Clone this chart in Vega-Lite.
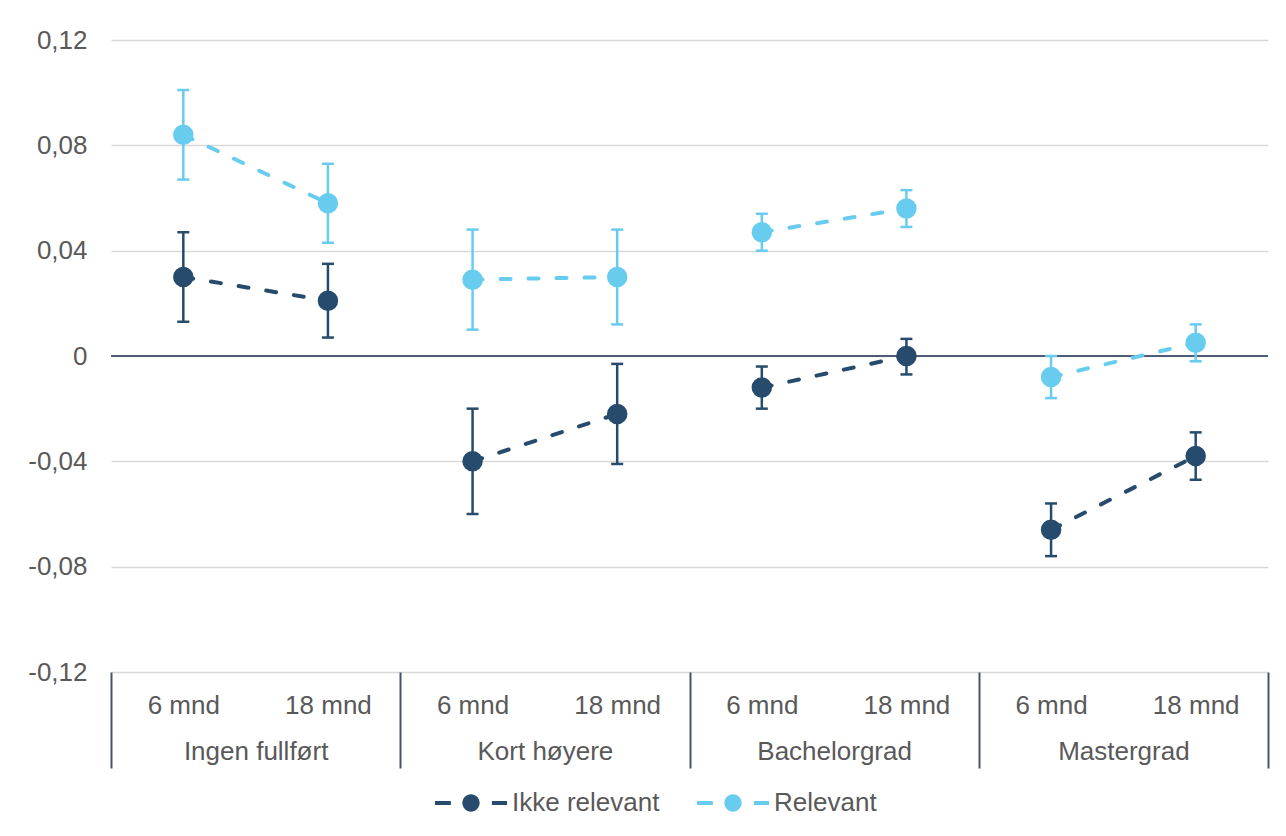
{
  "$schema": "https://vega.github.io/schema/vega-lite/v6.json",
  "width": 1157,
  "height": 632,
  "autosize": "none",
  "padding": {"left": 111, "top": 40, "right": 18, "bottom": 164},
  "background": "#ffffff",
  "config": {
    "font": "Liberation Sans",
    "view": {"stroke": null},
    "axis": {"labelFont": "Liberation Sans", "labelFontSize": 26, "labelColor": "#595959", "title": null}
  },
  "datasets": {
    "pts": [
      {"group": "Ingen fullført", "month": "6 mnd", "key": "Ingen fullført|6 mnd", "series": "Ikke relevant", "v": 0.030, "lo": 0.013, "hi": 0.047},
      {"group": "Ingen fullført", "month": "18 mnd", "key": "Ingen fullført|18 mnd", "series": "Ikke relevant", "v": 0.021, "lo": 0.007, "hi": 0.035},
      {"group": "Kort høyere", "month": "6 mnd", "key": "Kort høyere|6 mnd", "series": "Ikke relevant", "v": -0.040, "lo": -0.060, "hi": -0.020},
      {"group": "Kort høyere", "month": "18 mnd", "key": "Kort høyere|18 mnd", "series": "Ikke relevant", "v": -0.022, "lo": -0.041, "hi": -0.003},
      {"group": "Bachelorgrad", "month": "6 mnd", "key": "Bachelorgrad|6 mnd", "series": "Ikke relevant", "v": -0.012, "lo": -0.020, "hi": -0.004},
      {"group": "Bachelorgrad", "month": "18 mnd", "key": "Bachelorgrad|18 mnd", "series": "Ikke relevant", "v": 0.000, "lo": -0.007, "hi": 0.0065},
      {"group": "Mastergrad", "month": "6 mnd", "key": "Mastergrad|6 mnd", "series": "Ikke relevant", "v": -0.066, "lo": -0.076, "hi": -0.056},
      {"group": "Mastergrad", "month": "18 mnd", "key": "Mastergrad|18 mnd", "series": "Ikke relevant", "v": -0.038, "lo": -0.047, "hi": -0.029},
      {"group": "Ingen fullført", "month": "6 mnd", "key": "Ingen fullført|6 mnd", "series": "Relevant", "v": 0.084, "lo": 0.067, "hi": 0.101},
      {"group": "Ingen fullført", "month": "18 mnd", "key": "Ingen fullført|18 mnd", "series": "Relevant", "v": 0.058, "lo": 0.043, "hi": 0.073},
      {"group": "Kort høyere", "month": "6 mnd", "key": "Kort høyere|6 mnd", "series": "Relevant", "v": 0.029, "lo": 0.010, "hi": 0.048},
      {"group": "Kort høyere", "month": "18 mnd", "key": "Kort høyere|18 mnd", "series": "Relevant", "v": 0.030, "lo": 0.012, "hi": 0.048},
      {"group": "Bachelorgrad", "month": "6 mnd", "key": "Bachelorgrad|6 mnd", "series": "Relevant", "v": 0.047, "lo": 0.040, "hi": 0.054},
      {"group": "Bachelorgrad", "month": "18 mnd", "key": "Bachelorgrad|18 mnd", "series": "Relevant", "v": 0.056, "lo": 0.049, "hi": 0.063},
      {"group": "Mastergrad", "month": "6 mnd", "key": "Mastergrad|6 mnd", "series": "Relevant", "v": -0.008, "lo": -0.016, "hi": 0.000},
      {"group": "Mastergrad", "month": "18 mnd", "key": "Mastergrad|18 mnd", "series": "Relevant", "v": 0.005, "lo": -0.002, "hi": 0.012}
    ],
    "groups": [
      {"group": "Ingen fullført"},
      {"group": "Kort høyere"},
      {"group": "Bachelorgrad"},
      {"group": "Mastergrad"}
    ]
  },
  "resolve": {"scale": {"x": "independent"}, "axis": {"x": "independent"}},
  "layer": [
    {
      "data": {"name": "pts"},
      "mark": {"type": "rule", "color": "#4E5D75", "strokeWidth": 2},
      "encoding": {
        "y": {
          "datum": 0,
          "type": "quantitative",
          "scale": {"domain": [-0.12, 0.12], "nice": false, "zero": false},
          "axis": {
            "values": [-0.12, -0.08, -0.04, 0, 0.04, 0.08, 0.12],
            "domain": false,
            "ticks": false,
            "grid": true,
            "gridColor": "#D9D9D9",
            "gridWidth": 1.5,
            "labelPadding": 24,
            "labelExpr": "datum.value == 0 ? '0' : (datum.value < 0 ? '-' : '') + replace(format(abs(datum.value), '.2f'), '.', ',')"
          }
        }
      }
    },
    {
      "data": {"name": "pts"},
      "encoding": {
        "x": {
          "field": "key",
          "type": "nominal",
          "sort": ["Ingen fullført|6 mnd", "Ingen fullført|18 mnd", "Kort høyere|6 mnd", "Kort høyere|18 mnd", "Bachelorgrad|6 mnd", "Bachelorgrad|18 mnd", "Mastergrad|6 mnd", "Mastergrad|18 mnd"],
          "scale": {"type": "point", "padding": 0.5},
          "axis": {
            "orient": "bottom",
            "domain": false,
            "ticks": false,
            "grid": false,
            "labelAngle": 0,
            "labelPadding": 20,
            "labelExpr": "split(datum.label, '|')[1]"
          }
        },
        "y": {"field": "v", "type": "quantitative"},
        "color": {
          "field": "series",
          "type": "nominal",
          "scale": {"domain": ["Ikke relevant", "Relevant"], "range": ["#264B6D", "#68CCEE"]},
          "legend": {
            "title": null,
            "orient": "none",
            "direction": "horizontal",
            "legendX": 324,
            "legendY": 727,
            "padding": 0,
            "symbolType": "M-1,-0.055H-0.56V0.055H-1Z M0.58,-0.055H1V0.055H0.58Z M0.24,0A0.24,0.24,0,1,1,-0.24,0A0.24,0.24,0,1,1,0.24,0Z",
            "symbolSize": 5184,
            "symbolStrokeWidth": 0,
            "symbolOpacity": 1,
            "symbolDash": [],
            "labelFont": "Liberation Sans",
            "labelFontSize": 26,
            "labelColor": "#595959",
            "labelOffset": 5,
            "columnPadding": 37
          }
        }
      },
      "layer": [
        {
          "mark": {"type": "line", "strokeWidth": 4, "strokeDash": [10, 18], "strokeCap": "round"},
          "encoding": {"detail": {"field": "group"}}
        },
        {
          "mark": {"type": "rule", "strokeWidth": 2.5},
          "encoding": {
            "y": {"field": "lo", "type": "quantitative"},
            "y2": {"field": "hi"}
          }
        },
        {
          "mark": {"type": "tick", "orient": "horizontal", "size": 12, "thickness": 2.5, "opacity": 1},
          "encoding": {"y": {"field": "lo", "type": "quantitative"}}
        },
        {
          "mark": {"type": "tick", "orient": "horizontal", "size": 12, "thickness": 2.5, "opacity": 1},
          "encoding": {"y": {"field": "hi", "type": "quantitative"}}
        },
        {
          "mark": {"type": "point", "filled": true, "size": 420, "opacity": 1}
        }
      ]
    },
    {
      "data": {"name": "groups"},
      "mark": {"type": "point", "opacity": 0},
      "encoding": {
        "x": {
          "field": "group",
          "type": "nominal",
          "sort": ["Ingen fullført", "Kort høyere", "Bachelorgrad", "Mastergrad"],
          "scale": {"type": "band", "paddingInner": 0, "paddingOuter": 0},
          "axis": {
            "orient": "bottom",
            "domain": false,
            "grid": false,
            "ticks": true,
            "tickBand": "extent",
            "tickSize": 96,
            "tickColor": "#44546A",
            "tickWidth": 2,
            "labelAngle": 0,
            "labelPadding": -30
          }
        },
        "y": {"datum": 0, "type": "quantitative"}
      }
    }
  ]
}
